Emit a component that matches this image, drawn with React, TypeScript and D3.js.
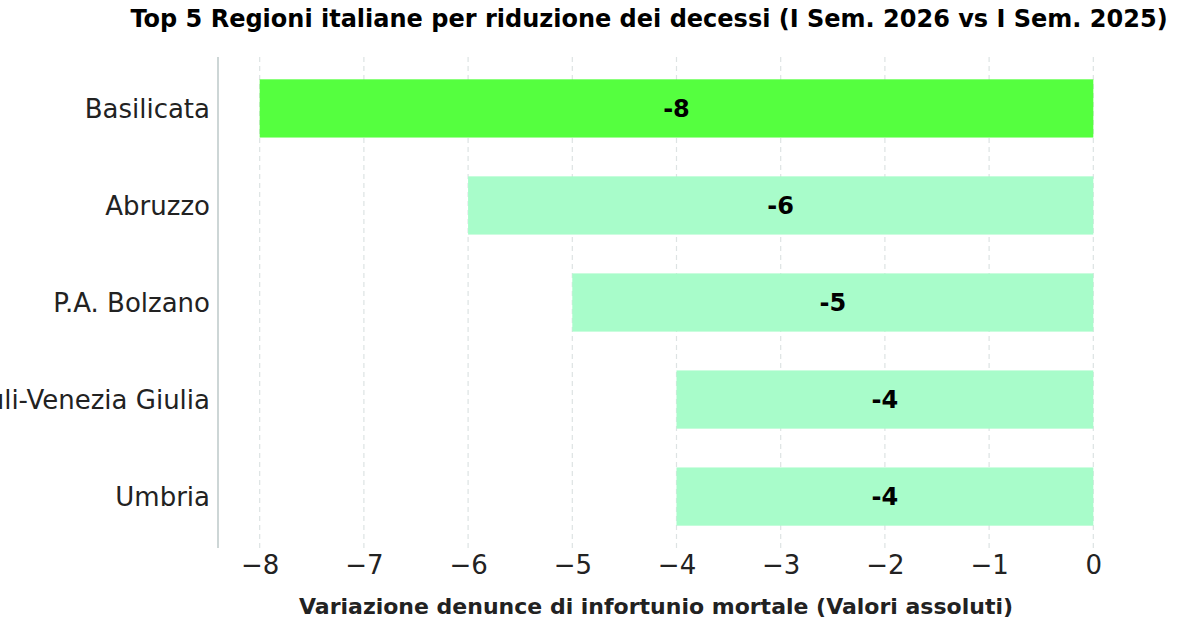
import * as d3 from 'd3';
import { useEffect, useRef } from 'react';

const regions = ['Basilicata', 'Abruzzo', 'P.A. Bolzano', 'Friuli-Venezia Giulia', 'Umbria'];
const changes = [-8, -6, -5, -4, -4];
const xTicks = [-8, -7, -6, -5, -4, -3, -2, -1, 0];

const W = 1200;
const H = 630;
const FONT = '"DejaVu Sans", sans-serif';

const App = () => {
  const ref = useRef<SVGSVGElement>(null);

  useEffect(() => {
    const svg = d3.select(ref.current);
    svg.selectAll('*').remove();

    const x = d3.scaleLinear([-8.4, 0.4], [218, 1135]);
    const y = d3.scaleLinear([-0.53, 4.53], [57, 548]);
    const barH = y(0.3) - y(-0.3);

    // grid
    svg
      .append('g')
      .selectAll('line')
      .data(xTicks)
      .enter()
      .append('line')
      .attr('x1', (d) => x(d))
      .attr('x2', (d) => x(d))
      .attr('y1', y(-0.53))
      .attr('y2', y(4.53))
      .attr('stroke', '#dde3e3')
      .attr('stroke-width', 1.2)
      .attr('stroke-dasharray', '5,4');

    // bars
    svg
      .append('g')
      .selectAll('rect')
      .data(changes)
      .enter()
      .append('rect')
      .attr('x', (d) => x(d))
      .attr('width', (d) => x(0) - x(d))
      .attr('y', (_, i) => y(i) - barH / 2)
      .attr('height', barH)
      .attr('fill', (_, i) => (i === 0 ? '#55ff3f' : '#a8fcca'));

    // value labels
    svg
      .append('g')
      .selectAll('text')
      .data(changes)
      .enter()
      .append('text')
      .attr('x', (d) => x(d / 2))
      .attr('y', (_, i) => y(i))
      .attr('dy', '0.36em')
      .attr('text-anchor', 'middle')
      .attr('font-family', FONT)
      .attr('font-weight', 'bold')
      .attr('font-size', 24)
      .attr('fill', '#000')
      .text((d) => `${d}`);

    // left spine
    svg
      .append('line')
      .attr('x1', 218)
      .attr('x2', 218)
      .attr('y1', y(-0.53))
      .attr('y2', y(4.53))
      .attr('stroke', '#cdd6d6')
      .attr('stroke-width', 2);

    // category labels (the longest one runs past the left edge, as in the source)
    svg
      .append('g')
      .selectAll('text')
      .data(regions)
      .enter()
      .append('text')
      .attr('x', 210)
      .attr('y', (_, i) => y(i))
      .attr('dy', '0.36em')
      .attr('text-anchor', 'end')
      .attr('font-family', FONT)
      .attr('font-size', 26)
      .attr('fill', '#222')
      .text((d) => d);

    // x axis
    const axis = svg
      .append('g')
      .attr('transform', `translate(0,${y(4.53)})`)
      .call(d3.axisBottom(x).tickValues(xTicks).tickSize(0).tickPadding(8));
    axis.select('.domain').remove();
    axis
      .selectAll('text')
      .attr('font-family', FONT)
      .attr('font-size', 26)
      .attr('fill', '#222');

    svg
      .append('text')
      .attr('x', 656)
      .attr('y', 614)
      .attr('text-anchor', 'middle')
      .attr('font-family', FONT)
      .attr('font-weight', 'bold')
      .attr('font-size', 22)
      .attr('fill', '#222')
      .text('Variazione denunce di infortunio mortale (Valori assoluti)');

    svg
      .append('text')
      .attr('x', 649)
      .attr('y', 27)
      .attr('text-anchor', 'middle')
      .attr('font-family', FONT)
      .attr('font-weight', 'bold')
      .attr('font-size', 24)
      .attr('fill', '#000')
      .text('Top 5 Regioni italiane per riduzione dei decessi (I Sem. 2026 vs I Sem. 2025)');
  }, []);

  return (
    <div>
      <svg
        ref={ref}
        width={W}
        height={H}
        viewBox={`0 0 ${W} ${H}`}
        style={{ position: 'fixed', left: 0, top: 0, background: '#fff' }}
      />
    </div>
  );
};

export default App;
